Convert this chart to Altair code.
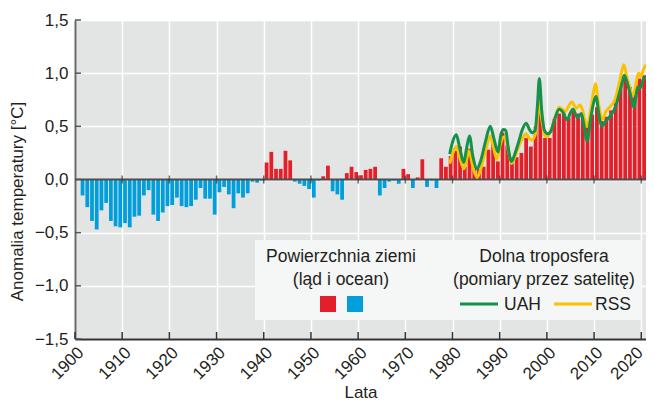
import altair as alt
import pandas as pd

# ---------------- data ----------------
years = list(range(1901, 2021))
anomaly = [
    -0.15, -0.26, -0.39, -0.47, -0.29, -0.22, -0.39, -0.44, -0.45, -0.41,   # 1901-1910
    -0.45, -0.35, -0.34, -0.15, -0.10, -0.33, -0.39, -0.31, -0.25, -0.24,   # 1911-1920
    -0.17, -0.25, -0.26, -0.25, -0.19, -0.08, -0.18, -0.18, -0.33, -0.12,   # 1921-1930
    -0.07, -0.14, -0.27, -0.13, -0.17, -0.13, -0.02, -0.03, -0.01, 0.16,    # 1931-1940
    0.26, 0.10, 0.10, 0.27, 0.18, -0.02, -0.04, -0.06, -0.09, -0.17,        # 1941-1950
    -0.01, 0.03, 0.13, -0.11, -0.14, -0.19, 0.06, 0.12, 0.07, 0.04,         # 1951-1960
    0.09, 0.10, 0.12, -0.15, -0.08, -0.02, -0.01, -0.04, 0.10, 0.05,        # 1961-1970
    -0.08, 0.02, 0.19, -0.07, -0.01, -0.08, 0.20, 0.12, 0.22, 0.27,         # 1971-1980
    0.31, 0.12, 0.29, 0.12, 0.10, 0.12, 0.28, 0.37, 0.17, 0.44,             # 1981-1990
    0.32, 0.15, 0.21, 0.25, 0.39, 0.31, 0.50, 0.65, 0.39, 0.39,             # 1991-2000
    0.57, 0.62, 0.62, 0.58, 0.66, 0.62, 0.62, 0.49, 0.61, 0.68,             # 2001-2010
    0.55, 0.59, 0.65, 0.72, 0.91, 0.98, 0.87, 0.80, 0.95, 0.98,             # 2011-2020
]

uah_t = [1979.4, 1980.0, 1980.8, 1981.6, 1982.4, 1983.0, 1983.6, 1984.3, 1985.2, 1986.0,
         1987.0, 1988.0, 1988.8, 1989.6, 1990.3, 1990.8, 1991.3, 1991.8, 1992.5, 1993.2,
         1994.0, 1994.8, 1995.6, 1996.2, 1996.8, 1997.5, 1998.0, 1998.4, 1998.9, 1999.5,
         2000.2, 2000.8, 2001.6, 2002.6, 2003.3, 2004.3, 2004.9, 2005.5, 2006.5, 2007.3,
         2007.9, 2008.5, 2009.2, 2010.0, 2010.4, 2011.0, 2011.6, 2012.5, 2013.3, 2014.5,
         2015.3, 2016.0, 2016.4, 2017.2, 2017.8, 2018.4, 2019.3, 2019.8, 2020.5, 2021.0]
uah_v = [0.24, 0.35, 0.42, 0.28, 0.16, 0.30, 0.41, 0.22, 0.10, 0.18,
         0.36, 0.50, 0.38, 0.26, 0.43, 0.47, 0.46, 0.30, 0.17, 0.24,
         0.35, 0.47, 0.53, 0.48, 0.44, 0.46, 0.70, 0.95, 0.65, 0.46,
         0.43, 0.45, 0.56, 0.66, 0.64, 0.56, 0.62, 0.66, 0.58, 0.62,
         0.50, 0.36, 0.55, 0.74, 0.78, 0.62, 0.50, 0.55, 0.59, 0.68,
         0.80, 0.92, 0.98, 0.88, 0.78, 0.68, 0.87, 0.86, 0.95, 0.96]

rss_t = [1979.4, 1980.0, 1980.8, 1981.6, 1982.4, 1983.0, 1983.5, 1984.3, 1985.2, 1986.0,
         1987.0, 1988.0, 1988.7, 1989.4, 1990.2, 1990.8, 1991.3, 1991.9, 1992.5, 1993.3,
         1994.2, 1995.0, 1995.6, 1996.2, 1996.8, 1997.5, 1998.0, 1998.4, 1998.9, 1999.5,
         2000.1, 2000.8, 2001.7, 2002.6, 2003.3, 2003.9, 2004.6, 2005.3, 2006.2, 2007.0,
         2007.5, 2008.5, 2009.3, 2010.0, 2010.3, 2010.9, 2011.8, 2012.5, 2013.3, 2014.5,
         2015.3, 2016.0, 2016.3, 2017.0, 2017.6, 2018.2, 2019.0, 2019.4, 2019.9, 2020.5,
         2021.0]
rss_v = [0.15, 0.24, 0.31, 0.20, 0.10, 0.19, 0.27, 0.12, 0.02, 0.10,
         0.27, 0.41, 0.30, 0.19, 0.34, 0.40, 0.38, 0.26, 0.15, 0.22,
         0.33, 0.40, 0.43, 0.39, 0.37, 0.42, 0.58, 0.74, 0.57, 0.42,
         0.40, 0.46, 0.58, 0.68, 0.66, 0.64, 0.69, 0.73, 0.67, 0.70,
         0.66, 0.50, 0.66, 0.85, 0.90, 0.72, 0.57, 0.64, 0.68, 0.76,
         0.90, 1.04, 1.08, 0.95, 0.86, 0.78, 0.93, 1.00, 0.97, 1.04,
         1.08]

x_ticks = list(range(1900, 2030, 10))
y_ticks = [-1.5, -1.0, -0.5, 0.0, 0.5, 1.0, 1.5]
zero_ticks = list(range(1910, 2030, 10))

legend_left = ["Powierzchnia ziemi", "(ląd i ocean)"]
legend_right = ["Dolna troposfera", "(pomiary przez satelitę)"]
series_names = ["UAH", "RSS"]

# ---------------- style ----------------
FONT = "Liberation Sans, Arial, sans-serif"
TXT = "#231f20"
RED = "#e3202a"
BLUE = "#009fdb"
GREEN = "#14924a"
YELLOW = "#fcc200"
W, H = 571, 319

xscale = alt.Scale(domain=[1900, 2021], nice=False, zero=False)
yscale = alt.Scale(domain=[-1.5, 1.5], nice=False, zero=False)

xaxis = alt.Axis(values=x_ticks, format="d", labelAngle=-45, labelAlign="right",
                 labelBaseline="top", labelPadding=5, tickSize=0, labelFontSize=17,
                 labelOverlap=False, labelBound=False, labelFlush=False,
                 labelOffset={"condition": {"test": "datum.value == 2020", "value": -7}, "value": 0},
                 labelColor=TXT, domainColor="#333333", domainWidth=2,
                 grid=True, gridColor="white", gridWidth=1.5,
                 title="Lata", titleFontSize=17, titleFontWeight="normal",
                 titleColor=TXT, titlePadding=2)
yaxis = alt.Axis(values=y_ticks, tickSize=0, labelPadding=7, labelFontSize=17,
                 labelOverlap=False,
                 labelColor=TXT, domainColor="#6b6b6b", domainWidth=2,
                 labelExpr="replace(replace(format(datum.value, '.1f'), '.', ','), '-', '\u2212')",
                 grid=True, gridColor="white", gridWidth=1.5,
                 title="Anomalia temperatury [°C]", titleFontSize=17, titleFontWeight="normal",
                 titleColor=TXT, titleAngle=-90, titleAlign="center", titleBaseline="middle",
                 titleX=-58, titleY=181)


def X(field):
    return alt.X(field, scale=xscale, axis=xaxis)


def Y(field):
    return alt.Y(field, scale=yscale, axis=yaxis)


bars_df = pd.DataFrame({"year": years, "anom": anomaly})
bars = alt.Chart(bars_df).transform_calculate(
    x0="datum.year + 0.2", x1="datum.year + 1.0"
).mark_rect().encode(
    x=X("x0:Q"),
    x2="x1:Q",
    y=Y("anom:Q"),
    y2=alt.datum(0),
    color=alt.condition("datum.anom >= 0", alt.value(RED), alt.value(BLUE)),
)

zero_line = alt.Chart(pd.DataFrame({"z": [0.0]})).mark_rule(
    color="#4d4d4d", strokeWidth=2
).encode(y=Y("z:Q"))

zero_tk = alt.Chart(pd.DataFrame({"t": zero_ticks, "z": [0.0] * len(zero_ticks)})).mark_tick(
    orient="vertical", size=8, thickness=1.5, color="#333333"
).encode(x=X("t:Q"), y=Y("z:Q"))

rss = alt.Chart(pd.DataFrame({"t": rss_t, "v": rss_v})).mark_line(
    color=YELLOW, strokeWidth=3, interpolate="monotone"
).encode(x=X("t:Q"), y=Y("v:Q"))

uah = alt.Chart(pd.DataFrame({"t": uah_t, "v": uah_v})).mark_line(
    color=GREEN, strokeWidth=3, interpolate="monotone"
).encode(x=X("t:Q"), y=Y("v:Q"))

# inward tick marks
ytk = alt.Chart(pd.DataFrame({"v": y_ticks})).mark_rule(color="#555555", strokeWidth=1.5).encode(
    y=Y("v:Q"), x=alt.value(0), x2=alt.value(6))
xtk = alt.Chart(pd.DataFrame({"t": x_ticks})).mark_rule(color="#333333", strokeWidth=1.5).encode(
    x=X("t:Q"), y=alt.value(H), y2=alt.value(H - 7))

# legend panel
one = pd.DataFrame({"a": [0]})
panel = alt.Chart(one).mark_rect(fill="#f5f6f6").encode(
    x=alt.value(180), x2=alt.value(567), y=alt.value(220), y2=alt.value(300))


def txt(s, x, y, align="center"):
    return alt.Chart(one).mark_text(text=s, font=FONT, fontSize=17.5, color=TXT,
                                    align=align, baseline="middle").encode(
        x=alt.value(x), y=alt.value(y))


leg = [
    panel,
    txt(legend_left[0], 266, 237), txt(legend_left[1], 266, 260),
    txt(legend_right[0], 469, 237), txt(legend_right[1], 469, 260),
    alt.Chart(one).mark_rect(fill=RED).encode(x=alt.value(245), x2=alt.value(261),
                                              y=alt.value(276), y2=alt.value(292)),
    alt.Chart(one).mark_rect(fill=BLUE).encode(x=alt.value(272), x2=alt.value(288),
                                               y=alt.value(276), y2=alt.value(292)),
    alt.Chart(one).mark_rule(color=GREEN, strokeWidth=3).encode(
        x=alt.value(385), x2=alt.value(423), y=alt.value(284)),
    txt(series_names[0], 429, 285, "left"),
    alt.Chart(one).mark_rule(color=YELLOW, strokeWidth=3).encode(
        x=alt.value(479), x2=alt.value(517), y=alt.value(284)),
    txt(series_names[1], 520, 285, "left"),
]

chart = alt.layer(bars, zero_line, zero_tk, rss, uah, ytk, xtk, *leg).properties(
    width=W, height=H,
    autosize=alt.AutoSizeParams(type="none"),
    padding={"left": 67, "top": 12, "right": 0, "bottom": 66},
    background="white",
).configure(font=FONT).configure_view(fill="#e3e4e4", stroke=None)

chart.save("out.html", embed_options={"renderer": "svg", "actions": False})
